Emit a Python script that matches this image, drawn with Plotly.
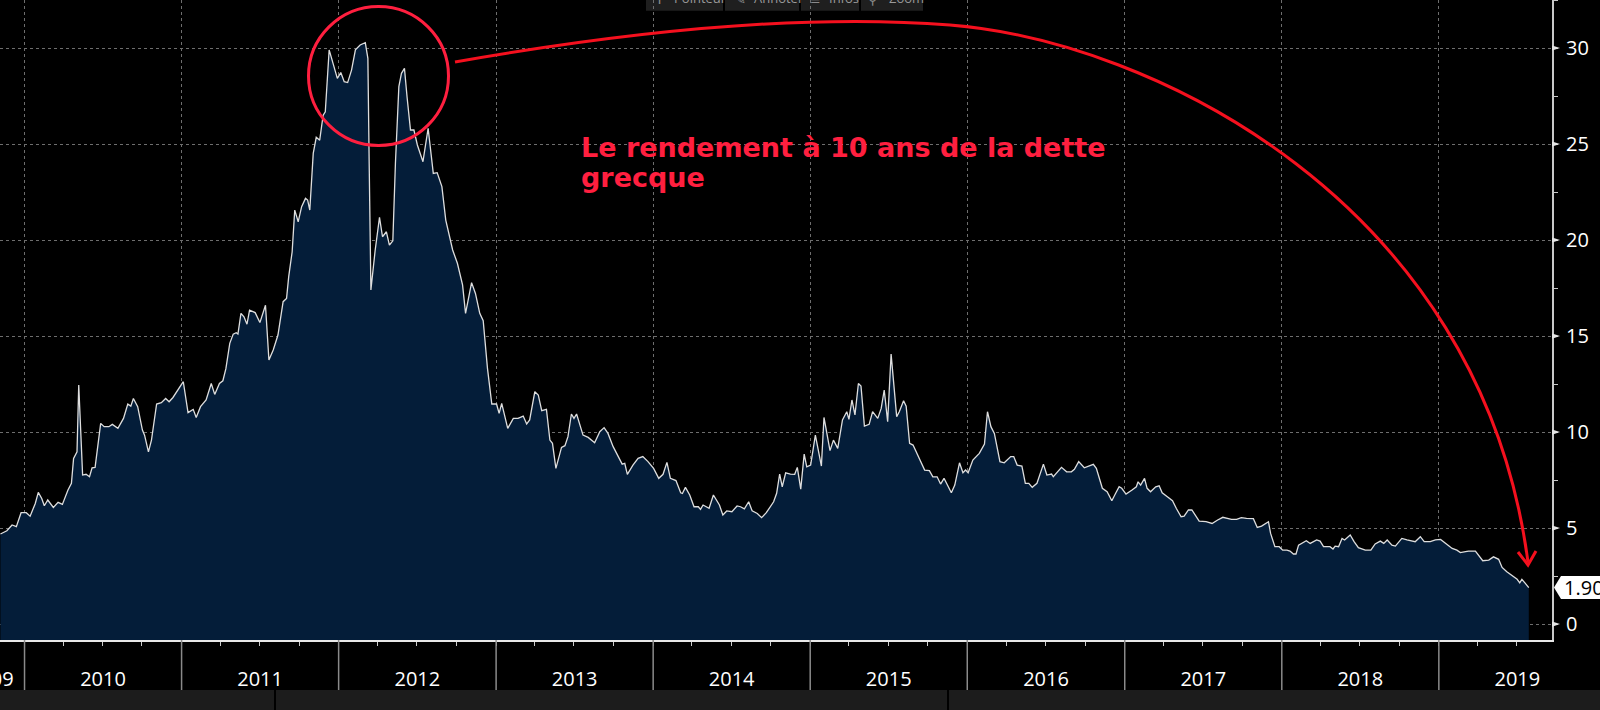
import plotly.graph_objects as go

# weekly-ish readings of the Greek 10y yield (%)
dates = [
    "2009-11-06", "2009-11-21", "2009-12-03", "2009-12-13", "2009-12-24",
    "2010-01-05", "2010-01-14", "2010-01-26", "2010-02-02", "2010-02-10", "2010-02-16", "2010-02-24", "2010-03-09",
    "2010-03-20", "2010-03-30", "2010-04-12", "2010-04-20", "2010-04-25", "2010-05-03", "2010-05-07", "2010-05-16",
    "2010-05-24", "2010-06-01", "2010-06-07", "2010-06-14", "2010-06-27", "2010-07-05", "2010-07-16", "2010-07-24",
    "2010-08-06", "2010-08-19", "2010-08-29", "2010-09-05", "2010-09-11", "2010-09-21", "2010-10-02", "2010-10-07",
    "2010-10-16", "2010-10-23", "2010-11-04", "2010-11-15", "2010-11-25", "2010-12-03", "2010-12-12",
    "2011-01-05", "2011-01-16", "2011-01-28", "2011-02-04", "2011-02-14", "2011-02-27", "2011-03-11", "2011-03-19",
    "2011-03-30", "2011-04-07", "2011-04-14", "2011-04-23", "2011-05-01", "2011-05-08", "2011-05-12", "2011-05-19",
    "2011-05-26", "2011-06-02", "2011-06-08", "2011-06-21", "2011-07-02", "2011-07-15", "2011-07-23", "2011-08-02",
    "2011-08-13", "2011-08-25", "2011-09-02", "2011-09-07", "2011-09-15", "2011-09-21", "2011-09-29", "2011-10-07",
    "2011-10-16", "2011-10-21", "2011-10-26", "2011-11-03", "2011-11-10", "2011-11-18", "2011-11-26", "2011-12-01",
    "2011-12-10", "2011-12-19", "2011-12-29",
    "2012-01-06", "2012-01-14", "2012-01-22", "2012-01-31", "2012-02-09", "2012-02-20", "2012-03-03", "2012-03-09",
    "2012-03-12", "2012-03-16", "2012-03-26", "2012-04-05", "2012-04-12", "2012-04-21", "2012-04-28", "2012-05-06",
    "2012-05-12", "2012-05-20", "2012-05-26", "2012-06-02", "2012-06-08", "2012-06-16", "2012-06-24", "2012-07-02",
    "2012-07-15", "2012-07-27", "2012-08-08", "2012-08-17", "2012-08-28", "2012-09-06", "2012-09-22", "2012-10-03",
    "2012-10-15", "2012-10-22", "2012-11-05", "2012-11-14", "2012-11-24", "2012-12-02", "2012-12-12", "2012-12-22",
    "2013-01-02", "2013-01-08", "2013-01-14", "2013-01-28", "2013-02-10", "2013-02-21", "2013-03-05", "2013-03-13",
    "2013-03-20", "2013-04-01", "2013-04-09", "2013-04-17", "2013-04-28", "2013-05-06", "2013-05-12", "2013-05-20",
    "2013-06-02", "2013-06-10", "2013-06-17", "2013-06-25", "2013-07-01", "2013-07-07", "2013-07-22", "2013-08-03",
    "2013-08-18", "2013-08-30", "2013-09-09", "2013-09-18", "2013-09-30", "2013-10-11", "2013-10-21", "2013-10-27",
    "2013-11-02", "2013-11-15", "2013-11-27", "2013-12-08", "2013-12-20",
    "2014-01-02", "2014-01-14", "2014-01-24", "2014-02-02", "2014-02-10", "2014-02-23", "2014-03-06", "2014-03-10",
    "2014-03-17", "2014-03-27", "2014-04-06", "2014-04-16", "2014-04-21", "2014-04-27", "2014-05-11", "2014-05-21",
    "2014-06-04", "2014-06-12", "2014-06-21", "2014-07-03", "2014-07-15", "2014-07-23", "2014-08-01", "2014-08-11",
    "2014-08-19", "2014-08-31", "2014-09-10", "2014-09-21", "2014-10-08", "2014-10-15", "2014-10-22", "2014-10-28",
    "2014-11-05", "2014-11-16", "2014-11-26", "2014-12-02", "2014-12-10", "2014-12-18", "2014-12-24",
    "2015-01-02", "2015-01-13", "2015-01-27", "2015-02-02", "2015-02-16", "2015-02-24", "2015-03-06", "2015-03-17",
    "2015-03-27", "2015-04-01", "2015-04-08", "2015-04-15", "2015-04-23", "2015-04-29", "2015-05-07", "2015-05-18",
    "2015-05-26", "2015-06-07", "2015-06-15", "2015-06-22", "2015-06-30", "2015-07-08", "2015-07-14", "2015-07-21",
    "2015-07-27", "2015-08-06", "2015-08-12", "2015-08-20", "2015-08-28", "2015-09-08", "2015-09-24", "2015-10-05",
    "2015-10-13", "2015-10-23", "2015-10-31", "2015-11-08", "2015-11-17", "2015-11-25", "2015-12-03", "2015-12-14",
    "2015-12-22", "2015-12-28",
    "2016-01-03", "2016-01-14", "2016-01-29", "2016-02-10", "2016-02-17", "2016-02-25", "2016-03-04", "2016-03-17",
    "2016-03-27", "2016-04-03", "2016-04-11", "2016-04-18", "2016-04-26", "2016-05-07", "2016-05-15", "2016-05-23",
    "2016-05-31", "2016-06-11", "2016-06-26", "2016-07-04", "2016-07-15", "2016-07-19", "2016-08-07", "2016-08-19",
    "2016-08-30", "2016-09-06", "2016-09-16", "2016-09-29", "2016-10-10", "2016-10-20", "2016-10-27", "2016-11-10",
    "2016-11-21", "2016-12-02", "2016-12-10", "2016-12-19", "2016-12-25",
    "2017-01-04", "2017-01-18", "2017-01-28", "2017-02-01", "2017-02-07", "2017-02-16", "2017-02-22", "2017-03-02",
    "2017-03-14", "2017-03-22", "2017-03-29", "2017-04-10", "2017-04-22", "2017-05-01", "2017-05-12", "2017-05-19",
    "2017-05-29", "2017-06-06", "2017-06-14", "2017-06-23", "2017-07-09", "2017-07-23", "2017-08-05", "2017-08-17",
    "2017-09-06", "2017-09-18", "2017-09-29", "2017-10-11", "2017-10-27", "2017-11-05", "2017-11-15", "2017-12-01",
    "2017-12-06", "2017-12-16", "2017-12-26",
    "2018-01-03", "2018-01-13", "2018-01-20", "2018-01-28", "2018-02-03", "2018-02-09", "2018-02-27", "2018-03-08",
    "2018-03-23", "2018-03-31", "2018-04-08", "2018-04-23", "2018-04-30", "2018-05-05", "2018-05-13", "2018-05-21",
    "2018-05-27", "2018-06-09", "2018-06-18", "2018-06-28", "2018-07-14", "2018-07-27", "2018-08-06", "2018-08-18",
    "2018-08-26", "2018-09-03", "2018-09-14", "2018-09-22", "2018-10-07", "2018-10-19", "2018-10-31", "2018-11-07",
    "2018-11-19", "2018-11-28", "2018-12-12", "2018-12-24",
    "2019-01-05", "2019-01-16", "2019-02-01", "2019-02-12", "2019-02-20", "2019-03-04", "2019-03-11", "2019-03-27",
    "2019-04-04", "2019-04-13", "2019-04-27", "2019-05-08", "2019-05-20", "2019-05-28", "2019-06-08", "2019-06-24",
    "2019-07-02", "2019-07-08", "2019-07-13", "2019-07-21", "2019-07-26", "2019-07-29",
]
yields = [
    4.69, 4.86, 5.16, 5.07, 5.80,
    5.80, 5.62, 6.28, 6.86, 6.54, 6.16, 6.46, 6.07,
    6.34, 6.23, 6.98, 7.33, 8.63, 8.97, 12.45, 7.76,
    7.80, 7.67, 8.14, 8.16, 10.45, 10.28, 10.28, 10.40,
    10.19, 10.71, 11.46, 11.35, 11.75, 11.32, 10.10, 9.84,
    8.97, 9.58, 11.46, 11.53, 11.75, 11.58, 11.80,
    12.62, 11.01, 11.18, 10.76, 11.32, 11.67, 12.53, 11.96,
    12.53, 12.67, 13.30, 14.62, 15.10, 15.17, 15.10, 16.18,
    16.00, 15.62, 16.35, 16.22, 15.70, 16.60, 13.75, 14.27,
    15.05, 16.79, 16.96, 18.09, 19.39, 21.56, 20.95, 21.74,
    22.17, 22.08, 21.56, 24.51, 25.35, 25.20, 26.50, 26.68,
    29.90, 29.20, 28.42,
    28.72, 28.25, 28.20, 28.85, 29.90, 30.16, 30.28, 29.46,
    23.99, 17.40, 19.48, 21.18, 20.17, 20.43, 19.74, 19.96,
    23.99, 27.99, 28.68, 28.94, 27.46, 25.73, 25.73, 24.95,
    24.08, 25.82, 23.47, 23.51, 22.78, 21.04, 19.48, 18.79,
    17.66, 16.18, 17.78, 17.22, 16.18, 15.80, 13.30, 11.46,
    11.46, 10.97, 11.49, 10.19, 10.71, 10.71, 10.83, 10.42,
    10.63, 12.10, 11.93, 11.11, 11.18, 9.58, 9.41, 8.11,
    9.20, 9.29, 9.76, 10.94, 10.71, 10.94, 9.84, 9.72,
    9.44, 10.02, 10.23, 9.93, 9.24, 8.80, 8.33, 8.37,
    7.80, 8.28, 8.63, 8.72, 8.46,
    8.11, 7.59, 7.80, 8.42, 7.59, 7.47, 6.84, 6.80,
    7.12, 6.72, 6.11, 6.11, 5.97, 6.20, 6.03, 6.72,
    6.20, 5.68, 5.89, 5.85, 6.15, 6.11, 6.00, 6.37,
    5.90, 5.76, 5.54, 5.80, 6.37, 6.81, 7.81, 7.15,
    7.88, 7.81, 7.80, 8.16, 7.03, 8.85, 8.19,
    8.28, 9.84, 8.23, 10.76, 9.03, 9.58, 9.15, 10.63,
    11.06, 10.66, 11.67, 10.89, 12.53, 12.40, 10.31, 10.40,
    11.06, 10.71, 11.23, 12.19, 10.54, 14.06, 12.71, 10.80,
    11.06, 11.63, 11.35, 9.41, 9.32, 8.80, 8.02, 7.99,
    7.67, 7.67, 7.29, 7.59, 7.15, 6.84, 7.24, 8.40,
    7.88, 8.02,
    7.88, 8.54, 8.89, 9.38, 11.06, 10.28, 9.93, 8.46,
    8.40, 8.54, 8.72, 8.72, 8.28, 8.23, 7.33, 7.33,
    7.12, 7.33, 8.33, 7.76, 7.81, 7.67, 8.16, 7.93,
    7.93, 8.06, 8.46, 8.14, 8.23, 8.32, 8.11, 7.07,
    6.89, 6.42, 6.77, 7.15, 7.07,
    6.77, 6.98, 7.15, 7.41, 7.24, 7.59, 7.07, 6.89,
    7.15, 7.20, 6.84, 6.63, 6.42, 6.02, 5.59, 5.62,
    5.94, 5.94, 5.68, 5.36, 5.33, 5.24, 5.42, 5.56,
    5.45, 5.45, 5.54, 5.50, 5.49, 5.03, 5.10, 5.33,
    4.72, 4.03, 4.03,
    3.85, 3.85, 3.80, 3.65, 3.65, 4.11, 4.34, 4.20,
    4.38, 4.32, 4.03, 4.03, 3.91, 4.06, 4.03, 4.46,
    4.38, 4.64, 4.29, 3.98, 3.85, 3.85, 4.17, 4.32,
    4.20, 4.38, 4.11, 4.06, 4.46, 4.38, 4.32, 4.29,
    4.55, 4.29, 4.29, 4.38,
    4.41, 4.20, 3.94, 3.85, 3.72, 3.77, 3.80, 3.80,
    3.59, 3.30, 3.33, 3.50, 3.37, 2.95, 2.72, 2.46,
    2.33, 2.15, 2.33, 2.12, 1.98, 1.90,
]

y_ticks = [0, 5, 10, 15, 20, 25, 30]
years = list(range(2010, 2020))
title_lines = ["Le rendement à 10 ans de la dette", "grecque"]
toolbar_labels = ["Pointeur", "Annoter", "Infos", "Zoom"]
toolbar_icons = ["✛", "✎", "≡", "⚲"]

PLOT_W, PLOT_H = 1552, 640
Y_RANGE = [-0.83, 32.5]
X_RANGE = ["2009-11-05", "2019-09-21"]
RED = "#ff1f3f"
ARROW_RED = "#f5101e"


def px(x):
    return x / PLOT_W


def py(y):
    return (PLOT_H - y) / PLOT_H


def pv(v):
    return (v - Y_RANGE[0]) / (Y_RANGE[1] - Y_RANGE[0])


fig = go.Figure()
# invisible floor so the fill runs to the bottom of the plot
fig.add_trace(go.Scatter(x=dates, y=[Y_RANGE[0]] * len(dates), mode="lines",
                         line=dict(width=0), hoverinfo="skip", showlegend=False))
fig.add_trace(go.Scatter(x=dates, y=yields, mode="lines", fill="tonexty",
                         fillcolor="#041d39", line=dict(color="#dedede", width=1.3),
                         showlegend=False))

shapes = []
# year dividers under the axis
for yr in years:
    shapes.append(dict(type="line", xref="x", yref="paper", x0=f"{yr}-01-01", x1=f"{yr}-01-01",
                       y0=py(640), y1=py(690), line=dict(color="#8a8a8a", width=1.5)))
# bottom strip
shapes.append(dict(type="rect", xref="paper", yref="paper", x0=0, x1=px(1600), y0=py(690), y1=py(712),
                   fillcolor="#1c1c1c", line=dict(width=0)))
for sx in [275, 948]:
    shapes.append(dict(type="line", xref="paper", yref="paper", x0=px(sx), x1=px(sx), y0=py(690), y1=py(712),
                       line=dict(color="#000000", width=2)))
# toolbar boxes on top
for bx0, bx1 in [(646, 723), (725, 799), (801, 859), (861, 923)]:
    shapes.append(dict(type="rect", xref="paper", yref="paper", x0=px(bx0), x1=px(bx1), y0=py(10.7), y1=py(-2),
                       fillcolor="#1f1f1f", line=dict(width=0), layer="below"))
# little triangles on the right axis
for t in y_ticks:
    shapes.append(dict(type="path", xref="paper", yref="paper",
                       path=f"M {px(1552)},{pv(t) - 2.6 / PLOT_H} L {px(1560)},{pv(t)} L {px(1552)},{pv(t) + 2.6 / PLOT_H} Z",
                       fillcolor="#e6e6e6", line=dict(width=0)))
# last value tag
last = yields[-1]
shapes.append(dict(type="path", xref="paper", yref="paper",
                   path=(f"M {px(1554)},{pv(last)} L {px(1561)},{pv(last) + 11.5 / PLOT_H} "
                         f"L {px(1620)},{pv(last) + 11.5 / PLOT_H} L {px(1620)},{pv(last) - 11.5 / PLOT_H} "
                         f"L {px(1561)},{pv(last) - 11.5 / PLOT_H} Z"),
                   fillcolor="#ffffff", line=dict(width=0)))
# red circle around the peak and the curved arrow
shapes.append(dict(type="circle", xref="paper", yref="paper", x0=px(308.5), x1=px(448.5), y0=py(145.5), y1=py(6.5),
                   line=dict(color=RED, width=3)))
shapes.append(dict(type="path", xref="paper", yref="paper",
                   path=(f"M {px(455)},{py(62)} C {px(620)},{py(33)} {px(800)},{py(13)} {px(950)},{py(25)} "
                         f"C {px(1150)},{py(41)} {px(1480)},{py(200)} {px(1528)},{py(562)}"),
                   line=dict(color=ARROW_RED, width=3)))
shapes.append(dict(type="path", xref="paper", yref="paper",
                   path=f"M {px(1518)},{py(552)} L {px(1528)},{py(565)} L {px(1536)},{py(551)}",
                   line=dict(color=ARROW_RED, width=3)))

annotations = [
    dict(text=title_lines[0], xref="paper", yref="paper", x=px(579), y=py(147), xanchor="left", yanchor="middle",
         showarrow=False, font=dict(family="DejaVu Sans", size=27, color=RED, weight="bold")),
    dict(text=title_lines[1], xref="paper", yref="paper", x=px(579), y=py(178), xanchor="left", yanchor="middle",
         showarrow=False, font=dict(family="DejaVu Sans", size=27, color=RED, weight="bold")),
    dict(text=f"{last:.2f}", xref="paper", yref="paper", x=px(1562), y=pv(last), xanchor="left", yanchor="middle",
         showarrow=False, font=dict(family="Open Sans", size=20, color="#000000")),
    dict(text="2009", xref="x", yref="paper", x="2010-01-01", y=py(678), xanchor="right", yanchor="middle",
         xshift=-9, showarrow=False, font=dict(family="Open Sans", size=20, color="#ffffff")),
]
# toolbar (only its lower part shows at the top edge)
for icon, ix in zip(toolbar_icons, [652, 733, 808, 866]):
    annotations.append(dict(text=icon, xref="paper", yref="paper", x=px(ix), y=py(9), xanchor="left",
                            yanchor="bottom", showarrow=False,
                            font=dict(family="DejaVu Sans", size=13, color="#8a8a8a")))
for label, lx in zip(toolbar_labels, [672, 752, 827, 887]):
    annotations.append(dict(text=label, xref="paper", yref="paper", x=px(lx), y=py(9), xanchor="left",
                            yanchor="bottom", showarrow=False,
                            font=dict(family="Open Sans", size=13, color="#9a9a9a")))

fig.update_layout(
    width=1600, height=710,
    margin=dict(l=0, r=48, t=0, b=70),
    paper_bgcolor="#000000", plot_bgcolor="#000000",
    font=dict(family="Open Sans", color="#ffffff", size=20),
    showlegend=False,
    shapes=shapes,
    annotations=annotations,
)
fig.update_xaxes(
    type="date", range=X_RANGE, dtick="M12", tick0="2010-01-01", ticklabelmode="period", tickformat="%Y",
    ticks="outside", ticklen=4, tickcolor="#cccccc", ticklabelstandoff=16,
    showgrid=True, gridcolor="#6e6e6e", griddash="dot", gridwidth=1,
    showline=True, linecolor="#e8e8e8", linewidth=2, zeroline=False,
    minor=dict(dtick="M3", ticks="outside", ticklen=4, tickcolor="#cccccc", showgrid=False),
    tickfont=dict(family="Open Sans", size=20, color="#ffffff"),
)
fig.update_yaxes(
    side="right", range=Y_RANGE, tickvals=y_ticks, ticks="", ticklabelstandoff=8,
    showgrid=True, gridcolor="#6e6e6e", griddash="dot", gridwidth=1,
    showline=True, linecolor="#c8c8c8", linewidth=2, zeroline=False,
    minor=dict(dtick=2.5, tick0=0, ticks="outside", ticklen=4, tickcolor="#c8c8c8", showgrid=False),
    tickfont=dict(family="Open Sans", size=20, color="#ffffff"),
)

# page body has an 8px default margin; drop it so the chart sits flush
fig.write_html("out.html", config={"displayModeBar": False},
               post_script="document.body.style.margin='0';")
